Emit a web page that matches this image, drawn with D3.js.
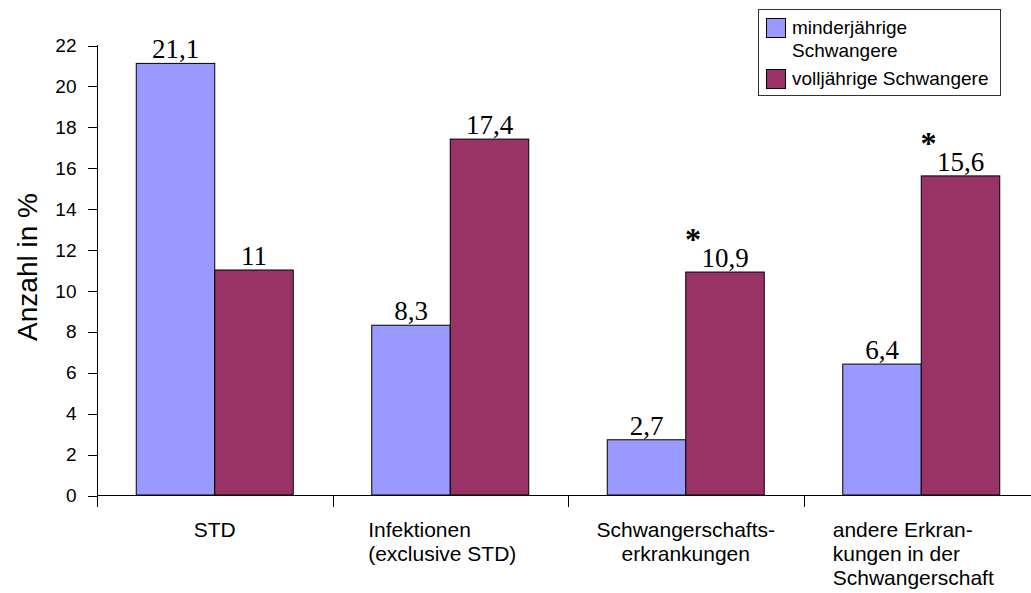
<!DOCTYPE html>
<html>
<head>
<meta charset="utf-8">
<script src="https://cdn.jsdelivr.net/npm/d3@7"></script>
<style>
  body { margin: 0; background: #fff; }
  svg { display: block; }
</style>
</head>
<body>
<svg id="chart" width="1031" height="593"></svg>
<script>
// Kategorien (Erkrankungsgruppen) und ihre umbrochenen Achsenbeschriftungen
const categories = ["STD", "Infektionen", "Schwangerschaftserkrankungen", "andere Erkrankungen"];
const categoryLines = [
  ["STD"],
  ["Infektionen", "(exclusive STD)"],
  ["Schwangerschafts-", "erkrankungen"],
  ["andere Erkran-", "kungen in der", "Schwangerschaft"]
];
const categoryAlign = ["middle", "start", "middle", "start"];

// Anteile in % je Gruppe
const seriesKeys = ["minderjaehrig", "volljaehrig"];
const seriesLabels = [["minderjährige", "Schwangere"], ["volljährige Schwangere"]];
const minderjaehrig = [21.1, 8.3, 2.7, 6.4];
const volljaehrig = [11, 17.4, 10.9, 15.6];
// signifikante Unterschiede (Stern über dem Balken der Volljährigen)
const significant = [false, false, true, true];

const yTicks = [0, 2, 4, 6, 8, 10, 12, 14, 16, 18, 20, 22];
const yTitle = "Anzahl in %";

const colors = ["#9999FF", "#993366"];
const sans = "'Liberation Sans', Arial, sans-serif";
const serif = "'Liberation Serif', 'Times New Roman', serif";

const svg = d3.select("#chart");

const x0 = d3.scaleBand().domain(categories).range([97, 1039]).paddingInner(0).paddingOuter(0);
const x1 = d3.scaleBand().domain(seriesKeys).range([0, x0.bandwidth()]).paddingInner(0).paddingOuter(0.5);
const y = d3.scaleLinear().domain([0, 22]).range([495, 45]);

const rows = categories.map((c, i) => ({
  cat: c, i,
  values: [
    { key: "minderjaehrig", v: minderjaehrig[i], s: 0 },
    { key: "volljaehrig", v: volljaehrig[i], s: 1 }
  ]
}));

const fmt = d3.formatLocale({ decimal: ",", thousands: ".", grouping: [3], currency: ["", " €"] }).format("~f");

// Balken
const groups = svg.append("g").selectAll("g").data(rows).join("g")
  .attr("transform", d => `translate(${x0(d.cat)},0)`);

groups.selectAll("rect").data(d => d.values).join("rect")
  .attr("x", d => x1(d.key))
  .attr("y", d => y(d.v))
  .attr("width", x1.bandwidth())
  .attr("height", d => y(0) - y(d.v))
  .attr("fill", d => colors[d.s])
  .attr("stroke", "#000")
  .attr("stroke-width", 1);

// Wertebeschriftungen
groups.selectAll("text.val").data(d => d.values).join("text")
  .attr("class", "val")
  .attr("x", d => x1(d.key) + x1.bandwidth() / 2)
  .attr("y", d => y(d.v) - 5)
  .attr("text-anchor", "middle")
  .attr("font-family", serif)
  .attr("font-size", 27)
  .attr("fill", "#000")
  .text(d => fmt(d.v));

// Signifikanzsterne
groups.filter(d => significant[d.i]).append("text")
  .attr("x", d => x1("volljaehrig") + x1.bandwidth() / 2 - 32)
  .attr("y", d => y(volljaehrig[d.i]) - 22)
  .attr("text-anchor", "middle")
  .attr("font-family", serif)
  .attr("font-weight", "bold")
  .attr("font-size", 32)
  .attr("fill", "#000")
  .text("*");

// y-Achse
const yAxis = svg.append("g")
  .attr("transform", "translate(97.5,0.5)")
  .call(d3.axisLeft(y).tickValues(yTicks).tickSize(10).tickSizeOuter(0).tickPadding(11));
yAxis.select(".domain").remove();
yAxis.selectAll("line").attr("stroke", "#000").attr("shape-rendering", "crispEdges");
yAxis.selectAll("text").attr("font-family", sans).attr("font-size", 19).attr("fill", "#000");
svg.append("line")
  .attr("x1", 97.5).attr("x2", 97.5)
  .attr("y1", y(22)).attr("y2", y(0) + 12)
  .attr("stroke", "#000").attr("shape-rendering", "crispEdges");

// x-Achse mit Trennstrichen zwischen den Kategorien
svg.append("line")
  .attr("x1", 97).attr("x2", 1031)
  .attr("y1", y(0) + 0.5).attr("y2", y(0) + 0.5)
  .attr("stroke", "#000").attr("shape-rendering", "crispEdges");
svg.append("g").selectAll("line").data(categories.slice(1)).join("line")
  .attr("x1", d => Math.round(x0(d)) + 0.5).attr("x2", d => Math.round(x0(d)) + 0.5)
  .attr("y1", y(0)).attr("y2", y(0) + 12)
  .attr("stroke", "#000").attr("shape-rendering", "crispEdges");

// Kategoriebeschriftungen
categories.forEach((c, i) => {
  const cx = x0(c) + x0.bandwidth() / 2;
  const g = svg.append("g");
  const texts = g.selectAll("text").data(categoryLines[i]).join("text")
    .attr("font-family", sans)
    .attr("font-size", 21)
    .attr("fill", "#000")
    .attr("y", (d, j) => 537 + j * 24)
    .text(d => d);
  if (categoryAlign[i] === "middle") {
    texts.attr("x", cx).attr("text-anchor", "middle");
  } else {
    const w = d3.max(texts.nodes(), n => n.getComputedTextLength());
    texts.attr("x", cx - w / 2 - 8).attr("text-anchor", "start");
  }
});

// Achsentitel
svg.append("text")
  .attr("transform", "translate(37,267) rotate(-90)")
  .attr("text-anchor", "middle")
  .attr("font-family", sans)
  .attr("font-size", 28)
  .attr("fill", "#000")
  .text(yTitle);

// Legende
const legend = svg.append("g");
legend.append("rect")
  .attr("x", 758.5).attr("y", 9.5).attr("width", 242).attr("height", 86)
  .attr("fill", "#fff").attr("stroke", "#333");
const legendRowY = [18, 69];
seriesKeys.forEach((k, i) => {
  legend.append("rect")
    .attr("x", 766.5).attr("y", legendRowY[i] + 0.5).attr("width", 19).attr("height", 19)
    .attr("fill", colors[i]).attr("stroke", "#000");
  legend.selectAll(null).data(seriesLabels[i]).join("text")
    .attr("x", 792)
    .attr("y", (d, j) => legendRowY[i] + 16 + j * 23)
    .attr("font-family", sans)
    .attr("font-size", 19)
    .attr("fill", "#000")
    .text(d => d);
});
</script>
</body>
</html>
